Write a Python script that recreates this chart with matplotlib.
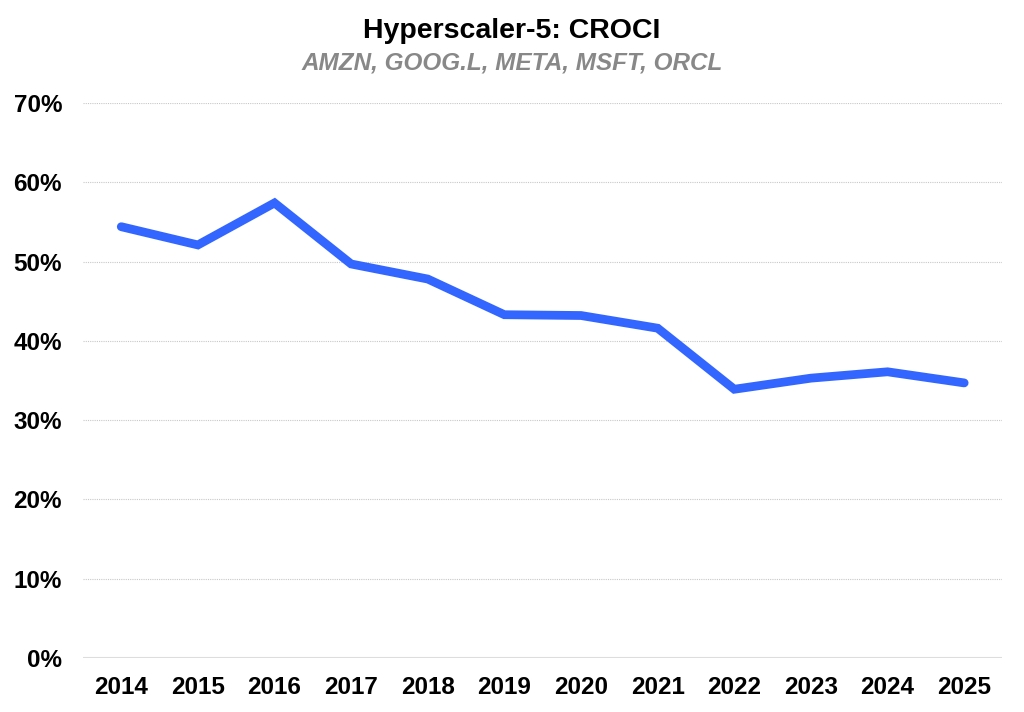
import matplotlib
matplotlib.use("Agg")
from matplotlib import pyplot as plt
from matplotlib.ticker import PercentFormatter

years = ["2014", "2015", "2016", "2017", "2018", "2019", "2020", "2021", "2022", "2023", "2024", "2025"]
croci = [54.4, 52.1, 57.4, 49.7, 47.8, 43.3, 43.2, 41.6, 33.9, 35.3, 36.1, 34.7]
y_ticks = [0, 10, 20, 30, 40, 50, 60, 70]

plt.rcParams['font.family'] = ['Liberation Sans', 'DejaVu Sans']

fig = plt.figure(figsize=(10.24, 7.12), dpi=100)
ax = fig.add_axes([0.081, 0.0758, 0.898, 0.7795])

x = range(len(years))
ax.plot(x, croci, color='#3366FF', linewidth=6.3, solid_capstyle='round', solid_joinstyle='miter', zorder=3)

ax.set_xlim(-0.5, len(years) - 0.5)
ax.set_ylim(0, 70)
ax.set_yticks(y_ticks)
ax.yaxis.set_major_formatter(PercentFormatter(decimals=0))
ax.set_xticks(list(x))
ax.set_xticklabels(years)

for t in y_ticks[1:]:
    ax.axhline(t, color='#c8c8c8', linewidth=0.8, linestyle=(0, (1, 1)), zorder=1)
ax.axhline(0, color='#dddddd', linewidth=1.5, zorder=1)

for s in ax.spines.values():
    s.set_visible(False)
ax.tick_params(axis='both', length=0, labelsize=17.5)
ax.tick_params(axis='y', pad=15)
ax.tick_params(axis='x', pad=13)
for lab in ax.get_xticklabels() + ax.get_yticklabels():
    lab.set_fontweight('bold')

fig.text(0.5, 0.957, "Hyperscaler-5: CROCI", ha='center', va='center', fontsize=20.5, fontweight='bold')
fig.text(0.5, 0.912, "AMZN, GOOG.L, META, MSFT, ORCL", ha='center', va='center', fontsize=17.5,
         fontweight='bold', style='italic', color='#888888')

fig.savefig("out.png", dpi=100)
